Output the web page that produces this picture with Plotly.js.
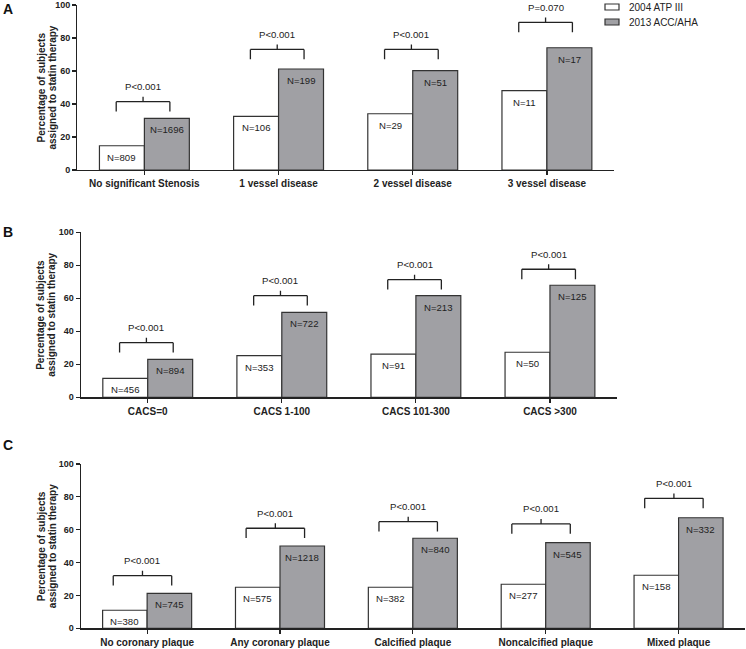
<!DOCTYPE html>
<html>
<head>
<meta charset="utf-8">
<script src="https://cdn.plot.ly/plotly-3.0.1.min.js"></script>
<style>
  html, body { margin: 0; padding: 0; background: #fff; }
  #chart { width: 746px; height: 649px; }
</style>
</head>
<body>
<div id="chart"></div>
<script>
// panel A - stenosis
var catsA = ['No significant Stenosis', '1 vessel disease', '2 vessel disease', '3 vessel disease'];
var atpA = [14.7, 32.5, 34.1, 48.1];
var accA = [31.3, 61.2, 60.2, 74.1];
var nAtpA = [809, 106, 29, 11];
var nAccA = [1696, 199, 51, 17];
var pA = ['P<0.001', 'P<0.001', 'P<0.001', 'P=0.070'];
var brkA = [41.4, 73.1, 73.1, 89.5];

// panel B - calcium score
var catsB = ['CACS=0', 'CACS 1-100', 'CACS 101-300', 'CACS >300'];
var atpB = [11.5, 25.2, 26.2, 27.3];
var accB = [23.0, 51.5, 61.6, 67.9];
var nAtpB = [456, 353, 91, 50];
var nAccB = [894, 722, 213, 125];
var pB = ['P<0.001', 'P<0.001', 'P<0.001', 'P<0.001'];
var brkB = [33.1, 61.6, 71.3, 77.6];

// panel C - plaque type
var catsC = ['No coronary plaque', 'Any coronary plaque', 'Calcified plaque', 'Noncalcified plaque', 'Mixed plaque'];
var atpC = [11.0, 25.0, 25.0, 26.8, 32.3];
var accC = [21.3, 50.1, 54.8, 52.1, 67.3];
var nAtpC = [380, 575, 382, 277, 158];
var nAccC = [745, 1218, 840, 545, 332];
var pC = ['P<0.001', 'P<0.001', 'P<0.001', 'P<0.001', 'P<0.001'];
var brkC = [32.0, 60.9, 64.9, 63.5, 79.1];

var seriesNames = ['2004 ATP III', '2013 ACC/AHA'];

var W = 746, H = 649;
var FONT = 'Liberation Sans, Arial, sans-serif';
var INK = '#222';
var GRAY = '#a0a0a4';
var half = 0.1675; // half a bar, in category units

var data = [];
var annotations = [];
var shapes = [];
var layout = {
  width: W, height: H,
  margin: {l: 0, r: 0, t: 0, b: 0},
  paper_bgcolor: '#fff', plot_bgcolor: '#fff',
  showlegend: false,
  barmode: 'group',
  bargap: 0.33,
  bargroupgap: 0,
  font: {family: FONT, color: INK}
};

function px(x) { return x / W; }
function py(y) { return 1 - y / H; }

function panel(n, cats, atp, acc, nAtp, nAcc, pTxt, brk, xpx, ypx, br, letter, letterY) {
  var sfx = n === 1 ? '' : String(n);
  var xa = 'x' + sfx, ya = 'y' + sfx;

  data.push({
    type: 'bar', x: cats, y: atp, name: seriesNames[0], xaxis: xa, yaxis: ya,
    marker: {color: '#fff', line: {color: '#333', width: 1.2}}, hoverinfo: 'y'
  });
  data.push({
    type: 'bar', x: cats, y: acc, name: seriesNames[1], xaxis: xa, yaxis: ya,
    marker: {color: GRAY, line: {color: '#333', width: 1.2}}, hoverinfo: 'y'
  });

  layout['xaxis' + sfx] = {
    domain: [px(xpx[0]), px(xpx[1])], anchor: ya, type: 'category',
    range: [-0.5, cats.length - 0.5],
    showline: true, linecolor: INK, linewidth: 1.2,
    ticks: 'outside', ticklen: 4, tickcolor: INK, tickwidth: 1.2,
    tickfont: {family: FONT, size: 10, color: INK, weight: 'bold'},
    showgrid: false, zeroline: false, fixedrange: true
  };
  layout['yaxis' + sfx] = {
    domain: [py(ypx[1]), py(ypx[0])], anchor: xa,
    range: [0, 100], dtick: 20,
    showline: true, linecolor: INK, linewidth: 1.2,
    ticks: 'outside', ticklen: 4, tickcolor: INK, tickwidth: 1.2,
    tickfont: {family: FONT, size: 9, color: INK, weight: 'bold'},
    showgrid: false, zeroline: false, fixedrange: true
  };

  for (var i = 0; i < cats.length; i++) {
    annotations.push({
      xref: xa, yref: ya, x: i - half, y: atp[i], yanchor: 'top', yshift: -4,
      text: 'N=' + nAtp[i], showarrow: false, font: {family: FONT, size: 9.6, color: INK}
    });
    annotations.push({
      xref: xa, yref: ya, x: i + half, y: acc[i], yanchor: 'top', yshift: -4,
      text: 'N=' + nAcc[i], showarrow: false, font: {family: FONT, size: 9.6, color: INK}
    });

    var x0 = i - br[0], x1 = i + br[1], xc = (x0 + x1) / 2;
    var ln = {color: INK, width: 1.3};
    shapes.push({type: 'line', xref: xa, yref: ya, x0: x0, x1: x1, y0: brk[i], y1: brk[i], line: ln});
    shapes.push({type: 'line', xref: xa, yref: ya, x0: x0, x1: x0, y0: brk[i], y1: brk[i] - 6, line: ln});
    shapes.push({type: 'line', xref: xa, yref: ya, x0: x1, x1: x1, y0: brk[i], y1: brk[i] - 6, line: ln});
    shapes.push({type: 'line', xref: xa, yref: ya, x0: xc, x1: xc, y0: brk[i], y1: brk[i] + 3, line: ln});
    annotations.push({
      xref: xa, yref: ya, x: xc, y: brk[i], yanchor: 'middle', yshift: 15,
      text: pTxt[i], showarrow: false, font: {family: FONT, size: 9.6, color: INK}
    });
  }

  // y axis title, two lines
  var yc = (ypx[0] + ypx[1]) / 2;
  annotations.push({
    xref: 'paper', yref: 'paper', x: px(41), y: py(yc), xanchor: 'center', yanchor: 'middle',
    text: 'Percentage of subjects', textangle: -90, showarrow: false,
    font: {family: FONT, size: 10, color: INK, weight: 'bold'}
  });
  annotations.push({
    xref: 'paper', yref: 'paper', x: px(52), y: py(yc), xanchor: 'center', yanchor: 'middle',
    text: 'assigned to statin therapy', textangle: -90, showarrow: false,
    font: {family: FONT, size: 10, color: INK, weight: 'bold'}
  });

  annotations.push({
    xref: 'paper', yref: 'paper', x: px(8), y: py(letterY), xanchor: 'center', yanchor: 'middle',
    text: letter, showarrow: false, font: {family: FONT, size: 14, color: '#111', weight: 'bold'}
  });
}

panel(1, catsA, atpA, accA, nAtpA, nAccA, pA, brkA, [77.3, 614], [5, 170], [0.21, 0.19], 'A', 9);
panel(2, catsB, atpB, accB, nAtpB, nAccB, pB, brkB, [80.7, 617], [232.3, 397.3], [0.21, 0.19], 'B', 232);
panel(3, catsC, atpC, accC, nAtpC, nAccC, pC, brkC, [80.7, 745], [464, 628.3], [0.255, 0.185], 'C', 445);

// legend, drawn by hand to match the small flat swatches
var legFill = ['#fff', GRAY];
var legY = [7, 22];
for (var k = 0; k < seriesNames.length; k++) {
  shapes.push({
    type: 'rect', xref: 'paper', yref: 'paper',
    x0: px(605), x1: px(619), y0: py(legY[k] + 3), y1: py(legY[k] - 3),
    fillcolor: legFill[k], line: {color: '#333', width: 1.2}
  });
  annotations.push({
    xref: 'paper', yref: 'paper', x: px(627), y: py(legY[k]), xanchor: 'left', yanchor: 'middle',
    text: seriesNames[k], showarrow: false, font: {family: FONT, size: 10, color: INK}
  });
}

layout.annotations = annotations;
layout.shapes = shapes;

Plotly.newPlot('chart', data, layout, {displayModeBar: false, staticPlot: true});
</script>
</body>
</html>
